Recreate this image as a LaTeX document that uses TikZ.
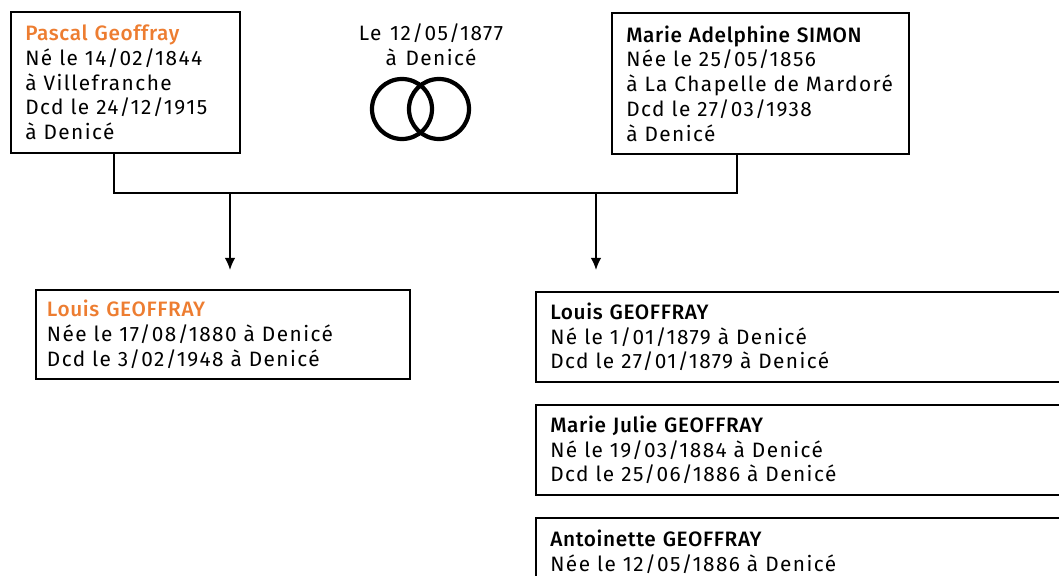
\documentclass[tikz,border=0pt]{standalone}
\usepackage{fontspec}
\IfFontExistsTF{Fira Sans Medium}
  {\setmainfont{Fira Sans}[LetterSpace=7, WordSpace=1.25, BoldFont={Fira Sans Medium}, BoldFeatures={LetterSpace=3}]}
  {\setmainfont{Fira Sans}[LetterSpace=7, WordSpace=1.25, BoldFeatures={LetterSpace=2}]}
\usetikzlibrary{arrows.meta}
\definecolor{orangenom}{HTML}{ED7D31}
\tikzset{
  fiche/.style={draw, line width=1.3pt, anchor=north west, align=left,
    inner xsep=0.36cm, inner ysep=0pt,
    font=\fontsize{14.8pt}{17.6pt}\selectfont},
  anneau/.style={draw, circle, line width=3pt, minimum size=1.5cm, inner sep=0pt}
}
\begin{document}
\begin{tikzpicture}[x=0.025cm, y=-0.025cm, >={Latex[length=3mm,width=2.6mm]}, line width=1pt]
\clip (0,0) rectangle (1059,576);
% parents
\node[fiche, text width=5cm, minimum height=3.525cm] (pere) at (10,11)
  {\textcolor{orangenom}{\textbf{Pascal Geoffray}}\\ Né le 14/02/1844\\ à Villefranche\\ Dcd le 24/12/1915\\ à Denicé};
\node[fiche, text width=6.7cm, minimum height=3.525cm] (mere) at (611,12)
  {\textbf{Marie Adelphine SIMON}\\ Née le 25/05/1856\\ \mbox{à La Chapelle de Mardoré}\\ Dcd le 27/03/1938\\ à Denicé};
\node[align=center, font=\fontsize{14.8pt}{17.6pt}\selectfont] (mariage) at (431,45)
  {Le 12/05/1877\\ à Denicé};
\node[anneau] (anneauA) at (402,109) {};
\node[anneau] (anneauB) at (439,109) {};
% enfants
\node[fiche, inner xsep=0.275cm, text width=8.8cm, minimum height=2.225cm] (louis) at (35,289)
  {\textcolor{orangenom}{\textbf{Louis GEOFFRAY}}\\ Née le 17/08/1880 à Denicé\\ Dcd le 3/02/1948 à Denicé};
\node[fiche, text width=12.65cm, minimum height=2.25cm] (louisb) at (535,291)
  {\textbf{Louis GEOFFRAY}\\ Né le 1/01/1879 à Denicé\\ Dcd le 27/01/1879 à Denicé};
\node[fiche, text width=12.65cm, minimum height=2.25cm] (julie) at (535,404)
  {\textbf{Marie Julie GEOFFRAY}\\ Né le 19/03/1884 à Denicé\\ Dcd le 25/06/1886 à Denicé};
\node[fiche, text width=12.65cm, minimum height=2.25cm] (antoinette) at (535,517)
  {\textbf{Antoinette GEOFFRAY}\\ Née le 12/05/1886 à Denicé\\ \mbox{}};
% liens
\coordinate (jp) at (114,193);
\coordinate (jm) at (737,193);
\coordinate (ja) at (230,193);
\coordinate (jb) at (596,193);
\coordinate (fa) at (230,270);
\coordinate (fb) at (596,270);
\draw (pere.south -| jp) -- (jp) -- (jm) -- (mere.south -| jm);
\draw[->] (ja) -- (fa);
\draw[->] (jb) -- (fb);
\end{tikzpicture}
\end{document}
